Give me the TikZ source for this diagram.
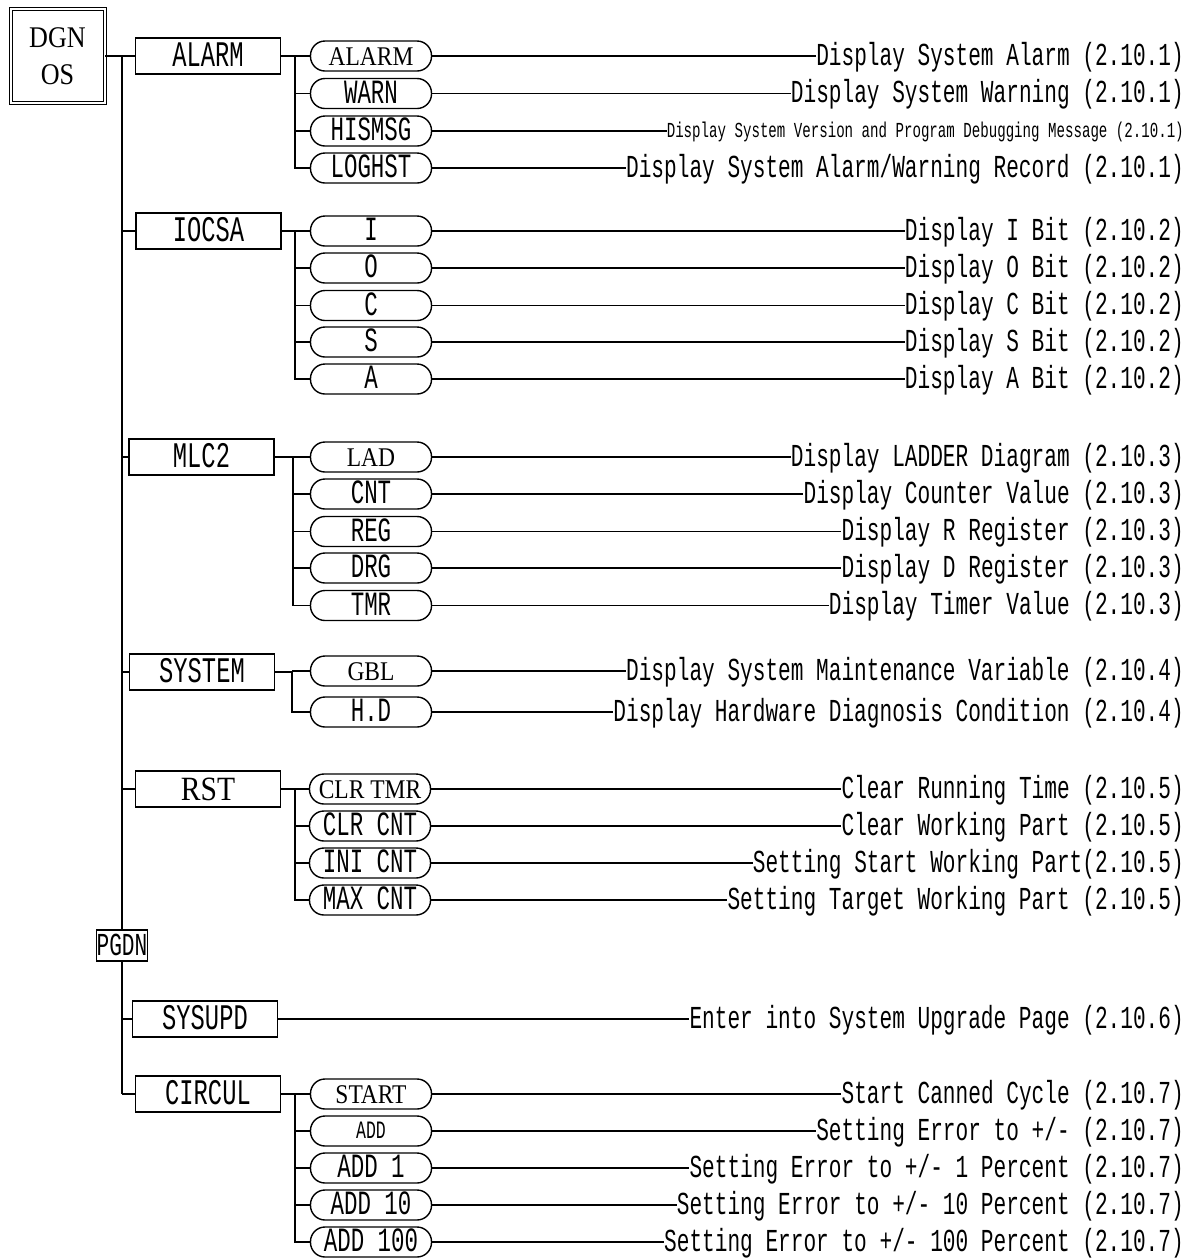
\documentclass[tikz,border=0pt]{standalone}
\usepackage{fontspec}
\setmainfont{Liberation Serif}
\newfontfamily\cf[FakeStretch=0.66]{Liberation Mono}
\newfontfamily\tf[FakeStretch=0.87]{Liberation Serif}
\begin{document}
\begin{tikzpicture}[x=1pt,y=-1pt,
  cat/.style={draw, line width=1.4pt, minimum width=145pt, minimum height=36pt, inner sep=0pt,
    text height=20.5pt, text depth=0pt, font=\cf\fontsize{36}{36}\selectfont},
  pill/.style={draw, line width=1.4pt, rounded corners=14.5pt, minimum width=121pt, minimum height=30pt,
    inner sep=0pt, text height=19pt, text depth=0pt, font=\cf\fontsize{34}{34}\selectfont},
  tpill/.style={pill, text height=18pt, font=\tf\fontsize{27}{27}\selectfont},
  spill/.style={pill, text height=14pt, font=\cf\fontsize{25}{25}\selectfont},
  desc/.style={anchor=east, inner sep=0pt, text height=18.3pt, text depth=0pt, font=\cf\fontsize{32}{32}\selectfont},
  sdesc/.style={desc, text height=12.2pt, font=\cf\fontsize{21.4}{21.4}\selectfont},
  conn/.style={line width=1.2pt},
  sub/.style={line width=1.6pt},
  stub/.style={line width=2.4pt},
  trunk/.style={line width=2.6pt}
]
\useasboundingbox (0,0) rectangle (1194,1259);

% root
\node[draw, double, double distance=2pt, line width=1pt, minimum width=94pt, minimum height=94pt,
  inner sep=0pt, align=center, font=\tf\fontsize{30}{37}\selectfont] (dgn) at (57.5,56) {DGN\\OS};
\coordinate (tx) at (122,0);
\node[draw, line width=1.3pt, minimum width=51pt, minimum height=31pt, inner sep=0pt,
  text height=19pt, text depth=0pt, font=\cf\fontsize{32}{32}\selectfont] (pgdn) at (122,945.5) {PGDN};

% category boxes
\node[cat] (alarm) at (208,56) {ALARM};
\node[cat] (iocsa) at (208.5,231) {IOCSA};
\node[cat] (mlc) at (201.5,457) {MLC2};
\node[cat] (system) at (202,672) {SYSTEM};
\node[cat, text height=22.5pt, font=\tf\fontsize{34}{34}\selectfont] (rst) at (208,789) {RST};
\node[cat] (sysupd) at (205,1019) {SYSUPD};
\node[cat] (circul) at (208,1094) {CIRCUL};

% trunk
\draw[trunk] (dgn.east) -- (dgn.east -| tx) -- (pgdn.north);
\draw[trunk] (pgdn.south) -- (circul.west -| tx);
\foreach \b in {alarm,iocsa,mlc,system,rst,sysupd,circul}
  \draw[conn] (\b.west -| tx) -- (\b.west);

% ALARM group
\coordinate (sa) at (295,0);
\node[tpill] (a1) at (371,56) {ALARM};
\node[pill] (a2) at (371,93.5) {WARN};
\node[pill] (a3) at (371,131) {HISMSG};
\node[pill] (a4) at (371,168) {LOGHST};
\node[desc] (da1) at (1184,56) {Display System Alarm (2.10.1)};
\node[desc] (da2) at (1184,93.5) {Display System Warning (2.10.1)};
\node[sdesc] (da3) at (1184,131) {Display System Version and Program Debugging Message (2.10.1)};
\node[desc] (da4) at (1184,168) {Display System Alarm/Warning Record (2.10.1)};
\draw[stub] (alarm.east) -- (alarm.east -| sa);
\draw[sub] (alarm.east -| sa) |- (a4.west);
\foreach \p in {a1,a2,a3} \draw[conn] (\p.west -| sa) -- (\p.west);
\foreach \p in {a1,a2,a3,a4} \draw[conn] (\p.east) -- (d\p.west);

% IOCSA group
\coordinate (si) at (295,0);
\node[pill] (i1) at (371,231) {I};
\node[pill] (i2) at (371,268) {O};
\node[pill] (i3) at (371,305.5) {C};
\node[pill] (i4) at (371,342) {S};
\node[pill] (i5) at (371,379) {A};
\node[desc] (di1) at (1184,231) {Display I Bit (2.10.2)};
\node[desc] (di2) at (1184,268) {Display O Bit (2.10.2)};
\node[desc] (di3) at (1184,305.5) {Display C Bit (2.10.2)};
\node[desc] (di4) at (1184,342) {Display S Bit (2.10.2)};
\node[desc] (di5) at (1184,379) {Display A Bit (2.10.2)};
\draw[stub] (iocsa.east) -- (iocsa.east -| si);
\draw[sub] (iocsa.east -| si) |- (i5.west);
\foreach \p in {i1,i2,i3,i4} \draw[conn] (\p.west -| si) -- (\p.west);
\foreach \p in {i1,i2,i3,i4,i5} \draw[conn] (\p.east) -- (d\p.west);

% MLC2 group
\coordinate (sm) at (293,0);
\node[tpill] (m1) at (371,457) {LAD};
\node[pill] (m2) at (371,494) {CNT};
\node[pill] (m3) at (371,531.5) {REG};
\node[pill] (m4) at (371,568) {DRG};
\node[pill] (m5) at (371,605.5) {TMR};
\node[desc] (dm1) at (1184,457) {Display LADDER Diagram (2.10.3)};
\node[desc] (dm2) at (1184,494) {Display Counter Value (2.10.3)};
\node[desc] (dm3) at (1184,531.5) {Display R Register (2.10.3)};
\node[desc] (dm4) at (1184,568) {Display D Register (2.10.3)};
\node[desc] (dm5) at (1184,605.5) {Display Timer Value (2.10.3)};
\draw[stub] (mlc.east) -- (mlc.east -| sm);
\draw[sub] (mlc.east -| sm) |- (m5.west);
\foreach \p in {m1,m2,m3,m4} \draw[conn] (\p.west -| sm) -- (\p.west);
\foreach \p in {m1,m2,m3,m4,m5} \draw[conn] (\p.east) -- (d\p.west);

% SYSTEM group
\coordinate (ss) at (292,0);
\node[tpill] (s1) at (371,671) {GBL};
\node[pill] (s2) at (371,712) {H.D};
\node[desc] (ds1) at (1184,671) {Display System Maintenance Variable (2.10.4)};
\node[desc] (ds2) at (1184,712) {Display Hardware Diagnosis Condition (2.10.4)};
\draw[conn] (system.east) -- (system.east -| ss);
\draw[sub] (system.east -| ss) |- (s2.west);
\draw[conn] (s1.west -| ss) -- (s1.west);
\foreach \p in {s1,s2} \draw[conn] (\p.east) -- (d\p.west);

% RST group
\coordinate (sr) at (295,0);
\node[tpill] (r1) at (370,789) {CLR TMR};
\node[pill] (r2) at (370,826) {CLR CNT};
\node[pill] (r3) at (370,863) {INI CNT};
\node[pill] (r4) at (370,900) {MAX CNT};
\node[desc] (dr1) at (1184,789) {Clear Running Time (2.10.5)};
\node[desc] (dr2) at (1184,826) {Clear Working Part (2.10.5)};
\node[desc] (dr3) at (1184,863) {Setting Start Working Part(2.10.5)};
\node[desc] (dr4) at (1184,900) {Setting Target Working Part (2.10.5)};
\draw[stub] (rst.east) -- (rst.east -| sr);
\draw[sub] (rst.east -| sr) |- (r4.west);
\foreach \p in {r1,r2,r3} \draw[conn] (\p.west -| sr) -- (\p.west);
\foreach \p in {r1,r2,r3,r4} \draw[conn] (\p.east) -- (d\p.west);

% SYSUPD
\node[desc] (dsu) at (1184,1019) {Enter into System Upgrade Page (2.10.6)};
\draw[conn] (sysupd.east) -- (dsu.west);

% CIRCUL group
\coordinate (sc) at (295,0);
\node[tpill] (c1) at (371,1094) {START};
\node[spill] (c2) at (371,1131) {ADD};
\node[pill] (c3) at (371,1168) {ADD 1};
\node[pill] (c4) at (371,1205) {ADD 10};
\node[pill] (c5) at (371,1242) {ADD 100};
\node[desc] (dc1) at (1184,1094) {Start Canned Cycle (2.10.7)};
\node[desc] (dc2) at (1184,1131) {Setting Error to +/- (2.10.7)};
\node[desc] (dc3) at (1184,1168) {Setting Error to +/- 1 Percent (2.10.7)};
\node[desc] (dc4) at (1184,1205) {Setting Error to +/- 10 Percent (2.10.7)};
\node[desc] (dc5) at (1184,1242) {Setting Error to +/- 100 Percent (2.10.7)};
\draw[stub] (circul.east) -- (circul.east -| sc);
\draw[sub] (circul.east -| sc) |- (c5.west);
\foreach \p in {c1,c2,c3,c4} \draw[conn] (\p.west -| sc) -- (\p.west);
\foreach \p in {c1,c2,c3,c4,c5} \draw[conn] (\p.east) -- (d\p.west);
\end{tikzpicture}
\end{document}
